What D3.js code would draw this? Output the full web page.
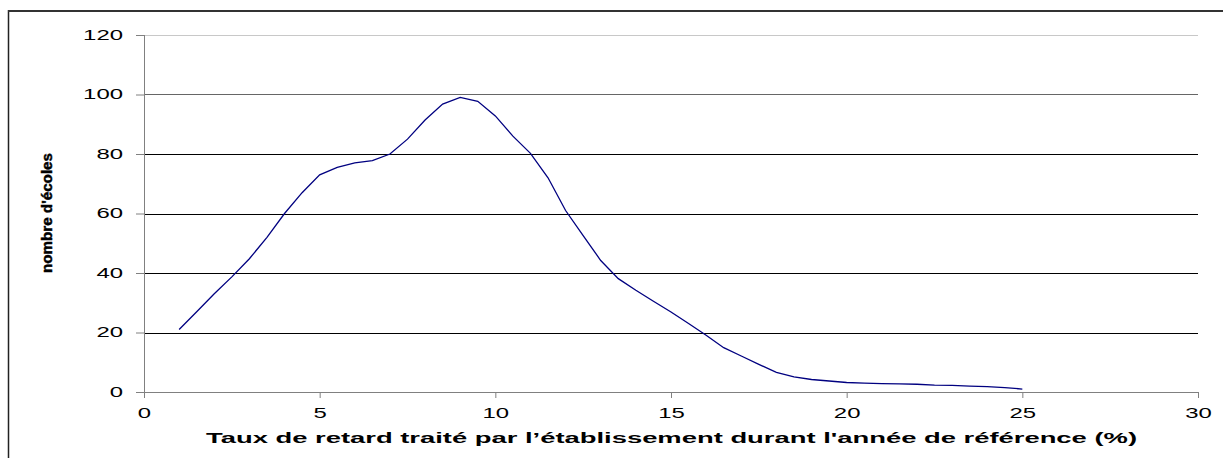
<!DOCTYPE html>
<html>
<head>
<meta charset="utf-8">
<script src="https://cdn.jsdelivr.net/npm/d3@7"></script>
<style>
  body { margin: 0; background: #fff; }
  svg { display: block; font-family: "Liberation Sans", Arial, sans-serif; }
  .axis path, .axis line { stroke: #808080; }
  .axis text { fill: #000; font-size: 14px; }
</style>
</head>
<body>
<div class="chart"></div>
<script>
// taux de retard (%) vs nombre
let taux = [1, 1.5, 2, 2.5, 3, 3.5, 4, 4.5, 5, 5.5, 6, 6.5, 7, 7.5, 8, 8.5, 9, 9.5, 10, 10.5, 11,
            11.5, 12, 12.5, 13, 13.5, 14, 14.5, 15, 15.5, 16, 16.5, 17, 17.5, 18, 18.5, 19, 19.5, 20,
            20.5, 21, 21.5, 22, 22.5, 23, 23.5, 24, 24.5, 25];
let nombre = [21, 27, 33, 38.7, 44.8, 52, 60, 67, 73, 75.5, 77, 77.8, 80, 85, 91.4, 96.8, 99, 97.7, 92.8, 86, 80.2,
              72, 61, 52.6, 44.2, 38.1, 34.2, 30.5, 26.9, 23, 19.1, 14.9, 12.1, 9.3, 6.6, 5.1, 4.2, 3.7, 3.2,
              3.0, 2.8, 2.7, 2.6, 2.3, 2.2, 2.0, 1.8, 1.5, 1.0];
let xTicks = [0, 5, 10, 15, 20, 25, 30];
let yTicks = [0, 20, 40, 60, 80, 100, 120];
let xTitle = "Taux de retard traité par l\u2019établissement  durant l'année de référence (%)";
let yTitle = "nombre d'écoles";

let data = taux.map((t, i) => ({x: t, y: nombre[i]}));

let W = 1223, H = 458;
let margin = {top: 35, left: 144};
let width = 1198 - margin.left;
let height = 392 - margin.top;

let root = d3.select('.chart').append('svg')
    .attr('width', W)
    .attr('height', H);

// frame
root.append('line').attr('x1', 8.5).attr('x2', 8.5).attr('y1', 10).attr('y2', H)
    .attr('stroke', '#222').attr('stroke-width', 1.5);
root.append('line').attr('x1', 8).attr('x2', W).attr('y1', 11).attr('y2', 11)
    .attr('stroke', '#333').attr('stroke-width', 2);

let svg = root.append('g')
    .attr('transform', `translate(${margin.left},${margin.top})`);

let xScale = d3.scaleLinear().domain([0, 30]).range([0, width]);
let yScale = d3.scaleLinear().domain([0, 120]).range([height, 0]);

// gridlines
svg.append('g').attr('class', 'grid')
    .selectAll('line')
    .data(yTicks.filter(d => d > 0))
    .enter()
    .append('line')
    .attr('x1', 0)
    .attr('x2', width)
    .attr('y1', d => Math.round(yScale(d)) + 0.5)
    .attr('y2', d => Math.round(yScale(d)) + 0.5)
    .attr('stroke', d => d == 120 ? '#c8c8c8' : (d == 100 ? '#666' : '#000'));

let digitW = 13.3;

let xAxis = d3.axisBottom(xScale).tickValues(xTicks).tickSize(6).tickPadding(10);
let yAxis = d3.axisLeft(yScale).tickValues(yTicks).tickSize(8).tickPadding(13);

let gx = svg.append('g')
    .attr('class', 'axis x-axis')
    .attr('transform', `translate(0,${height})`)
    .call(xAxis);
gx.select('.domain').attr('d', `M0.5,0.5H${width + 0.5}`);
gx.selectAll('text')
    .attr('textLength', d => String(d).length * digitW)
    .attr('lengthAdjust', 'spacingAndGlyphs');

let gy = svg.append('g')
    .attr('class', 'axis y-axis')
    .call(yAxis);
gy.select('.domain').attr('d', `M0.5,0V${height}`);
gy.selectAll('text')
    .attr('textLength', d => String(d).length * digitW)
    .attr('lengthAdjust', 'spacingAndGlyphs');

// the curve
let line = d3.line()
    .x(d => xScale(d.x))
    .y(d => yScale(d.y));

svg.append('path')
    .datum(data)
    .attr('fill', 'none')
    .attr('stroke', '#000080')
    .attr('stroke-width', 1.3)
    .attr('d', line);

// titles
root.append('text')
    .attr('x', 206)
    .attr('y', 443)
    .attr('font-size', 14)
    .attr('font-weight', 'bold')
    .attr('textLength', 931)
    .attr('lengthAdjust', 'spacingAndGlyphs')
    .text(xTitle);

// squeezed vertical title
root.append('text')
    .attr('transform', `translate(52,213) rotate(-90) scale(1,0.9)`)
    .attr('text-anchor', 'middle')
    .attr('font-size', 16)
    .attr('font-weight', 'bold')
    .attr('stroke', '#000')
    .attr('stroke-width', 0.5)
    .attr('textLength', 120)
    .attr('lengthAdjust', 'spacingAndGlyphs')
    .text(yTitle);
</script>
</body>
</html>
